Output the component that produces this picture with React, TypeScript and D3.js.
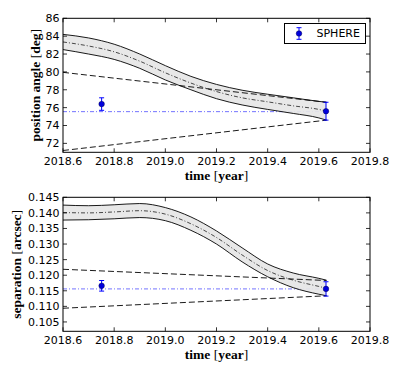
import React from "react";
import * as d3 from "d3";

// ---- data ----
const bandT = [2018.6, 2018.7, 2018.8, 2018.9, 2019.0, 2019.1, 2019.2, 2019.3, 2019.4, 2019.5, 2019.6, 2019.63];

const paUpper = [84.2, 83.8, 83.1, 82.0, 80.7, 79.5, 78.6, 77.95, 77.5, 77.1, 76.7, 76.6];
const paLower = [82.5, 82.0, 81.4, 80.4, 79.1, 78.0, 77.0, 76.3, 75.8, 75.35, 74.85, 74.6];
const paMid = [83.35, 82.9, 82.25, 81.2, 79.9, 78.75, 77.8, 77.1, 76.65, 76.2, 75.8, 75.6];

const sepUpper = [0.1425, 0.1423, 0.1426, 0.143, 0.1417, 0.1387, 0.1342, 0.1288, 0.1236, 0.1207, 0.119, 0.1184];
const sepLower = [0.1377, 0.1378, 0.1381, 0.1385, 0.1375, 0.1344, 0.13, 0.1243, 0.1195, 0.116, 0.1139, 0.1134];
const sepMid = [0.1401, 0.14, 0.1403, 0.1407, 0.1396, 0.1365, 0.1321, 0.1265, 0.1215, 0.1184, 0.1164, 0.1158];

const dashT = [2018.6, 2019.63];
const paDashUpper = [79.95, 76.6];
const paDashLower = [71.2, 74.6];
const sepDashUpper = [0.1219, 0.1183];
const sepDashLower = [0.1094, 0.1134];

const refT = [2018.6, 2019.63];
const paRef = 75.55;
const sepRef = 0.1156;

const obsT = [2018.751, 2019.628];
const paObs = [76.4, 75.6];
const paErr = [0.7, 1.0];
const sepObs = [0.1166, 0.1156];
const sepErr = [0.0017, 0.0023];

const xTicks = [2018.6, 2018.8, 2019.0, 2019.2, 2019.4, 2019.6, 2019.8];
const paTicks = [72, 74, 76, 78, 80, 82, 84, 86];
const sepTicks = [0.105, 0.11, 0.115, 0.12, 0.125, 0.13, 0.135, 0.14, 0.145];

const legendLabel = "SPHERE";

// ---- layout ----
const X0 = 63;
const X1 = 370;
const BLUE = "#0000ff";

type PanelProps = {
  top: number;
  bottom: number;
  yDomain: [number, number];
  yTicks: number[];
  yFmt: (v: number) => string;
  upper: number[];
  lower: number[];
  mid: number[];
  dashUp: number[];
  dashLo: number[];
  refV: number;
  obs: number[];
  err: number[];
  yLabel: string;
  yLabelX: number;
  legend?: boolean;
  id: string;
};

function Panel(p: PanelProps) {
  const x = d3.scaleLinear().domain([2018.6, 2019.8]).range([X0, X1]);
  const y = d3.scaleLinear().domain(p.yDomain).range([p.bottom, p.top]);
  const area = d3
    .area<number>()
    .x((_, i) => x(bandT[i]))
    .y0((_, i) => y(p.lower[i]))
    .y1((d) => y(d))
    .curve(d3.curveMonotoneX);
  const line = d3
    .line<number>()
    .x((_, i) => x(bandT[i]))
    .y((d) => y(d))
    .curve(d3.curveMonotoneX);
  const dline = d3
    .line<number>()
    .x((_, i) => x(dashT[i]))
    .y((d) => y(d));
  const clipId = "clip-" + p.id;
  const font = "'DejaVu Sans', sans-serif";
  const h = p.bottom - p.top;
  return (
    <g>
      <defs>
        <clipPath id={clipId}>
          <rect x={X0} y={p.top} width={X1 - X0} height={h} />
        </clipPath>
      </defs>
      <g clipPath={`url(#${clipId})`}>
        <line
          x1={x(refT[0])}
          x2={x(refT[1])}
          y1={y(p.refV)}
          y2={y(p.refV)}
          stroke={BLUE}
          strokeOpacity={0.55}
          strokeWidth={1}
          strokeDasharray="4,2,1,2"
        />
        <path d={area(p.upper) || ""} fill="#e6e6e6" fillOpacity={0.92} stroke="none" />
        <path d={line(p.upper) || ""} fill="none" stroke="#000" strokeWidth={0.9} />
        <path d={line(p.lower) || ""} fill="none" stroke="#000" strokeWidth={0.9} />
        <path d={line(p.mid) || ""} fill="none" stroke="#000" strokeWidth={0.7} strokeDasharray="4,2,1,2" />
        <path d={dline(p.dashUp) || ""} fill="none" stroke="#000" strokeWidth={0.9} strokeDasharray="6,3" />
        <path d={dline(p.dashLo) || ""} fill="none" stroke="#000" strokeWidth={0.9} strokeDasharray="6,3" />
        {p.obs.map((v, i) => {
          const cx = x(obsT[i]);
          const y1 = y(v + p.err[i]);
          const y2 = y(v - p.err[i]);
          return (
            <g key={i}>
              <line x1={cx} x2={cx} y1={y1} y2={y2} stroke={BLUE} strokeWidth={1} />
              <line x1={cx - 2.5} x2={cx + 2.5} y1={y1} y2={y1} stroke={BLUE} strokeWidth={1} />
              <line x1={cx - 2.5} x2={cx + 2.5} y1={y2} y2={y2} stroke={BLUE} strokeWidth={1} />
              <circle cx={cx} cy={y(v)} r={2.8} fill="#0000dd" stroke="#000033" strokeWidth={0.4} />
            </g>
          );
        })}
      </g>
      {/* ticks */}
      {xTicks.map((t) => (
        <g key={"x" + t}>
          <line x1={x(t)} x2={x(t)} y1={p.bottom} y2={p.bottom - 4} stroke="#000" strokeWidth={0.8} />
          <line x1={x(t)} x2={x(t)} y1={p.top} y2={p.top + 4} stroke="#000" strokeWidth={0.8} />
          <text x={x(t)} y={p.bottom + 12.5} fontFamily={font} fontSize={11} textAnchor="middle" fill="#000">
            {t.toFixed(1)}
          </text>
        </g>
      ))}
      {p.yTicks.map((t) => (
        <g key={"y" + t}>
          <line x1={X0} x2={X0 + 4} y1={y(t)} y2={y(t)} stroke="#000" strokeWidth={0.8} />
          <line x1={X1} x2={X1 - 4} y1={y(t)} y2={y(t)} stroke="#000" strokeWidth={0.8} />
          <text x={X0 - 3.5} y={y(t)} dy="0.36em" fontFamily={font} fontSize={11} textAnchor="end" fill="#000">
            {p.yFmt(t)}
          </text>
        </g>
      ))}
      <rect x={X0} y={p.top} width={X1 - X0} height={h} fill="none" stroke="#000" strokeWidth={1} />
      <text
        x={(X0 + X1) / 2}
        y={p.bottom + 28}
        fontFamily="'Liberation Serif', serif"
        fontWeight="bold"
        fontSize={13.5}
        textAnchor="middle"
        fill="#000"
      >
        time <tspan fontWeight="normal">[</tspan>year<tspan fontWeight="normal">]</tspan>
      </text>
      <text
        transform={`translate(${p.yLabelX},${(p.top + p.bottom) / 2}) rotate(-90)`}
        fontFamily="'Liberation Serif', serif"
        fontWeight="bold"
        fontSize={13.5}
        textAnchor="middle"
        fill="#000"
      >
        {p.yLabel.split(" [")[0]} <tspan fontWeight="normal">[</tspan>
        {p.yLabel.split(" [")[1].replace("]", "")}
        <tspan fontWeight="normal">]</tspan>
      </text>
      {p.legend && (
        <g>
          <rect x={284.5} y={23.5} width={81} height={20} fill="#fff" stroke="#000" strokeWidth={1} />
          <line x1={299} x2={299} y1={27.7} y2={39.3} stroke={BLUE} strokeWidth={1} />
          <line x1={296.5} x2={301.5} y1={27.7} y2={27.7} stroke={BLUE} strokeWidth={1} />
          <line x1={296.5} x2={301.5} y1={39.3} y2={39.3} stroke={BLUE} strokeWidth={1} />
          <circle cx={299} cy={33.5} r={2.8} fill="#0000dd" stroke="#000033" strokeWidth={0.4} />
          <text x={316.5} y={37.3} fontFamily={font} fontSize={11} fill="#000">
            {legendLabel}
          </text>
        </g>
      )}
    </g>
  );
}

export default function App() {
  return (
    <svg
      width={399}
      height={378}
      style={{ position: "absolute", left: 0, top: 0, background: "#fff" }}
    >
      <rect x={0} y={0} width={399} height={378} fill="#fff" />
      <Panel
        id="pa"
        top={18.3}
        bottom={152.3}
        yDomain={[71, 86]}
        yTicks={paTicks}
        yFmt={(v) => String(v)}
        upper={paUpper}
        lower={paLower}
        mid={paMid}
        dashUp={paDashUpper}
        dashLo={paDashLower}
        refV={paRef}
        obs={paObs}
        err={paErr}
        yLabel="position angle [deg]"
        yLabelX={40}
        legend
      />
      <Panel
        id="sep"
        top={197.3}
        bottom={331.3}
        yDomain={[0.102, 0.145]}
        yTicks={sepTicks}
        yFmt={(v) => v.toFixed(3)}
        upper={sepUpper}
        lower={sepLower}
        mid={sepMid}
        dashUp={sepDashUpper}
        dashLo={sepDashLower}
        refV={sepRef}
        obs={sepObs}
        err={sepErr}
        yLabel="separation [arcsec]"
        yLabelX={21}
      />
    </svg>
  );
}
